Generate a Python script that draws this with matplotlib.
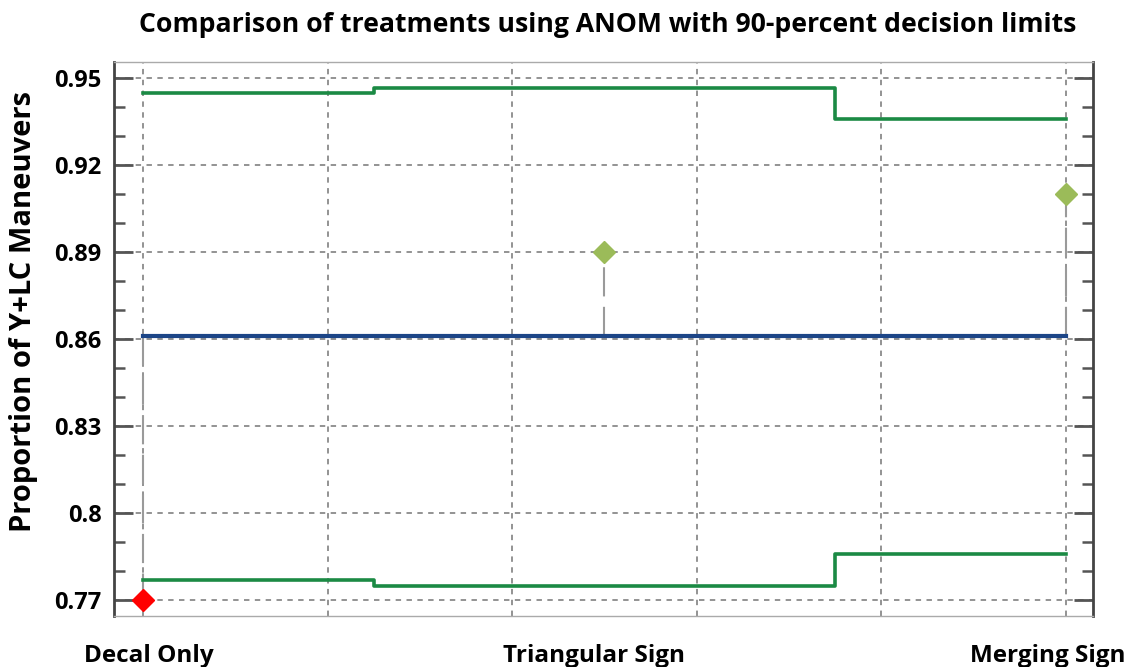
import numpy as np
import matplotlib.pyplot as plt
from matplotlib.transforms import ScaledTranslation
from matplotlib.ticker import MultipleLocator

plt.rcParams['font.family'] = ['Open Sans', 'DejaVu Sans']

# --- data ---
treatments = ['Decal Only', 'Triangular Sign', 'Merging Sign']
proportions = [0.770, 0.890, 0.910]
upper_limits = [0.9449, 0.9465, 0.936]
lower_limits = [0.7769, 0.775, 0.786]
center_line = 0.861
y_ticks = [0.77, 0.80, 0.83, 0.86, 0.89, 0.92, 0.95]
y_tick_labels = ['0.77', '0.8', '0.83', '0.86', '0.89', '0.92', '0.95']

x = np.arange(len(treatments))
W, H = 1133, 667

fig = plt.figure(figsize=(W / 100, H / 100), dpi=100)
ax = fig.add_axes([114 / W, (H - 616) / H, (1093 - 114) / W, (616 - 62) / H])

# grid
for gx in np.arange(0, 2.01, 0.4):
    ax.axvline(gx, color='#8a8a8a', lw=1.3, ls=(0, (3, 3)), zorder=1)
for gy in y_ticks:
    ax.axhline(gy, color='#8a8a8a', lw=1.3, ls=(0, (3, 3)), zorder=1)

# decision limits (step at midpoints between groups)
ax.step(x, upper_limits, where='mid', color='#1b8a44', lw=2.6, zorder=3)
ax.step(x, lower_limits, where='mid', color='#1b8a44', lw=2.6, zorder=3)

# center line
ax.plot([x[0], x[-1]], [center_line, center_line], color='#1c4587', lw=3, zorder=3)

# lines from center to each point
for xi, p in zip(x, proportions):
    ax.plot([xi, xi], [center_line, p], color='#9a9a9a', lw=1.5,
            ls=(0, (14, 5)), zorder=2)

# points: outside the limits in red
for xi, p, lo, hi in zip(x, proportions, lower_limits, upper_limits):
    c = '#ff0000' if (p < lo or p > hi) else '#9bbb59'
    ax.plot(xi, p, marker='D', ms=11, color=c, mec=c, zorder=4, clip_on=False)

ax.set_xlim(-0.0628, 2.0585)
ax.set_ylim(0.7645, 0.9556)

ax.set_yticks(y_ticks)
ax.set_yticklabels(y_tick_labels, fontsize=17, fontweight='bold')
ax.yaxis.set_minor_locator(MultipleLocator(0.01))
ax.tick_params(axis='y', which='major', direction='in', length=14, width=2,
               color='#555555', left=True, right=True, pad=9)
ax.tick_params(axis='y', which='minor', direction='in', length=8, width=1.8,
               color='#555555', left=True, right=True)

ax.set_xticks(x)
ax.set_xticklabels(treatments, fontsize=17.5, fontweight='bold')
ax.tick_params(axis='x', length=0, pad=20)
offsets = [6, -10, -18]
for lab, dx in zip(ax.get_xticklabels(), offsets):
    lab.set_transform(lab.get_transform() + ScaledTranslation(dx / 100, 0, fig.dpi_scale_trans))

for s in ['left', 'right']:
    ax.spines[s].set_color('#444444')
    ax.spines[s].set_linewidth(2)
for s in ['top', 'bottom']:
    ax.spines[s].set_color('#aaaaaa')
    ax.spines[s].set_linewidth(1)

ax.set_ylabel('Proportion of Y+LC Maneuvers', fontsize=21, fontweight='bold')
ax.yaxis.set_label_coords(-0.078, 0.55)

fig.text(608 / W, 1 - 25 / H, 'Comparison of treatments using ANOM with 90-percent decision limits',
         ha='center', va='center', fontsize=19.2, fontweight='bold')

fig.savefig('out.png', dpi=100)
